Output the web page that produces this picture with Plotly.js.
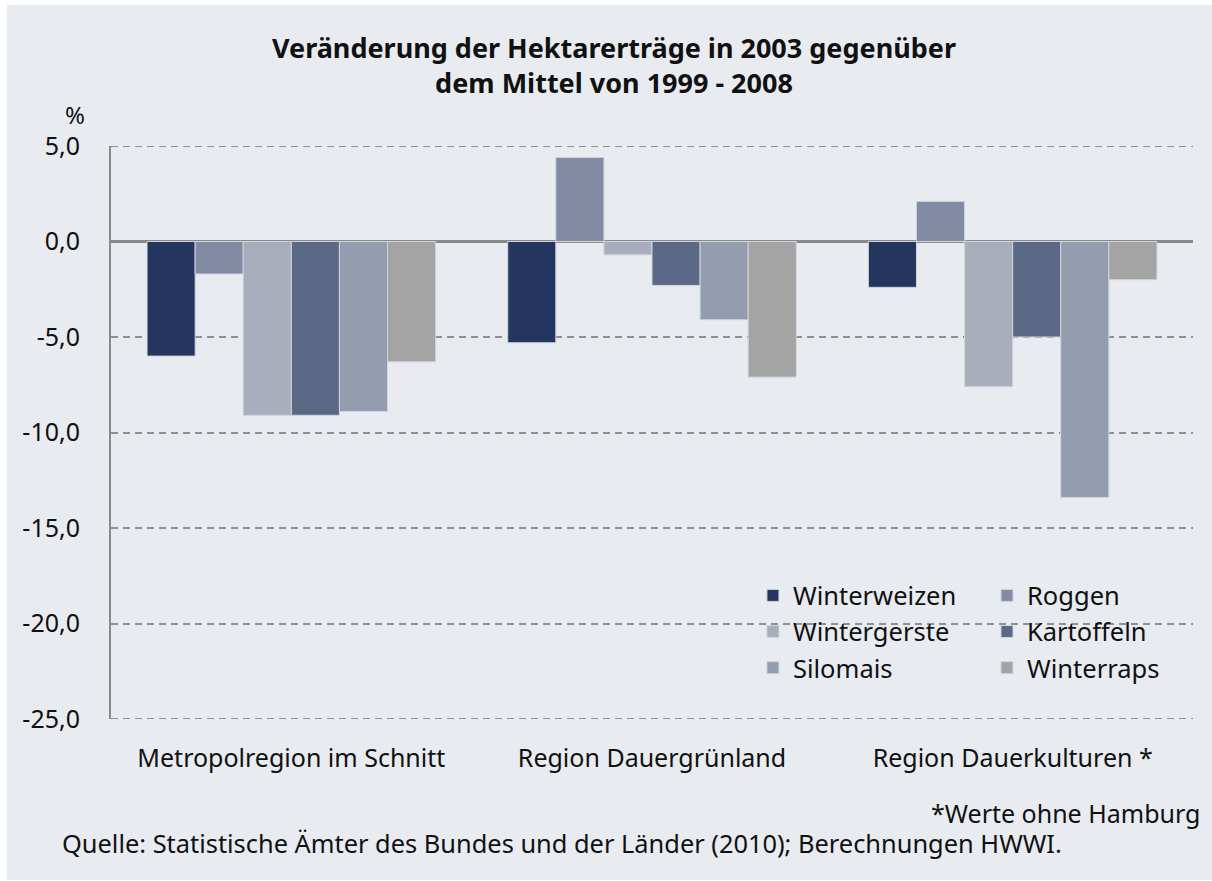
<!DOCTYPE html>
<html>
<head>
<meta charset="utf-8">
<script src="https://cdn.plot.ly/plotly-3.0.1.min.js"></script>
<style>
html, body { margin: 0; padding: 0; background: #ffffff; }
#chart { position: absolute; left: 7px; top: 5px; width: 1205px; height: 875px; }
</style>
</head>
<body>
<div id="chart"></div>
<script>
const categories = ["Metropolregion im Schnitt", "Region Dauergrünland", "Region Dauerkulturen *"];
const seriesNames = ["Winterweizen", "Roggen", "Wintergerste", "Kartoffeln", "Silomais", "Winterraps"];
const winterweizen = [-6.0, -5.3, -2.4];
const roggen = [-1.7, 4.4, 2.1];
const wintergerste = [-9.1, -0.7, -7.6];
const kartoffeln = [-9.1, -2.3, -5.0];
const silomais = [-8.9, -4.1, -13.4];
const winterraps = [-6.3, -7.1, -2.0];
const seriesValues = [winterweizen, roggen, wintergerste, kartoffeln, silomais, winterraps];
const seriesColors = ["#24365f", "#828ba3", "#a8aebb", "#5b6987", "#949daf", "#a4a4a4"];
const legendAssign = ["legend", "legend2", "legend", "legend2", "legend", "legend2"];
const yTicks = [5, 0, -5, -10, -15, -20, -25];
const yTickLabels = ["5,0", "0,0", "-5,0", "-10,0", "-15,0", "-20,0", "-25,0"];

const FONT = "Noto Sans, Open Sans, sans-serif";
const TXT = "#111111";
const GRID = "#909090";
const traces = seriesNames.map((name, i) => ({
  type: "bar",
  name: name,
  x: categories,
  y: seriesValues[i],
  legend: legendAssign[i],
  marker: { color: seriesColors[i], line: { color: "#d0d4dc", width: 1 } },
  hoverinfo: "skip"
}));

const legendCommon = {
  orientation: "v",
  bgcolor: "rgba(0,0,0,0)",
  font: { family: FONT, size: 25.5, color: TXT },
  tracegroupgap: 0,
  itemwidth: 30,
  xanchor: "left",
  yanchor: "top",
  xref: "paper",
  yref: "paper"
};

// edge gridlines (range ends) drawn as shapes at the first and last tick values
const edgeTicks = [yTicks[0], yTicks[yTicks.length - 1]];
const edgeGrid = edgeTicks.map(v => ({
  type: "line", xref: "paper", yref: "y", x0: 0, x1: 1, y0: v, y1: v,
  line: { color: GRID, width: 2, dash: "7px,5px" }, layer: "below"
}));

const layout = {
  width: 1205,
  height: 875,
  paper_bgcolor: "#e8ebf0",
  plot_bgcolor: "#e8ebf0",
  separators: ",.",
  margin: { l: 104, r: 19, t: 141, b: 161 },
  font: { family: FONT, size: 25, color: TXT },
  barmode: "group",
  bargap: 0.2,
  bargroupgap: 0,
  showlegend: true,
  legend: Object.assign({}, legendCommon, { x: 0.5933, y: 0.256 }),
  legend2: Object.assign({}, legendCommon, { x: 0.8096, y: 0.256 }),
  xaxis: {
    type: "category",
    showgrid: false,
    showline: false,
    zeroline: false,
    ticks: "",
    ticklabelstandoff: 22,
    tickfont: { family: FONT, size: 25, color: TXT }
  },
  yaxis: {
    range: [-25, 5],
    tickvals: yTicks,
    ticktext: yTickLabels,
    showgrid: true,
    gridcolor: GRID,
    gridwidth: 2,
    griddash: "7px,5px",
    zeroline: true,
    zerolinecolor: "#8a8a8a",
    zerolinewidth: 2.5,
    showline: true,
    linecolor: "#8a8a8a",
    linewidth: 2,
    ticks: "",
    ticklabelstandoff: 24,
    tickfont: { family: FONT, size: 25, color: TXT }
  },
  shapes: edgeGrid,
  annotations: [
    { text: "<b>Veränderung der Hektarerträge in 2003 gegenüber<br>dem Mittel von 1999 - 2008</b>", xref: "paper", yref: "paper", x: (607 - 104) / 1082, y: 1, xanchor: "center", yanchor: "middle", yshift: 81, showarrow: false, font: { family: FONT, size: 27, color: TXT } },
    { text: "%", xref: "paper", yref: "paper", x: -0.022, y: 1.0, xanchor: "right", yanchor: "bottom", yshift: 13, showarrow: false, font: { family: FONT, size: 24, color: TXT } },
    { text: "*Werte ohne Hamburg", xref: "paper", yref: "paper", x: 1.0, y: 0, xanchor: "right", yanchor: "middle", xshift: 9, yshift: -94, showarrow: false, font: { family: FONT, size: 25, color: TXT } },
    { text: "Quelle: Statistische Ämter des Bundes und der Länder (2010); Berechnungen HWWI.", xref: "paper", yref: "paper", x: 0, y: 0, xanchor: "left", yanchor: "middle", xshift: -51, yshift: -124, showarrow: false, font: { family: FONT, size: 25.4, color: TXT } }
  ]
};

Plotly.newPlot("chart", traces, layout, { displayModeBar: false, staticPlot: true });
</script>
</body>
</html>
